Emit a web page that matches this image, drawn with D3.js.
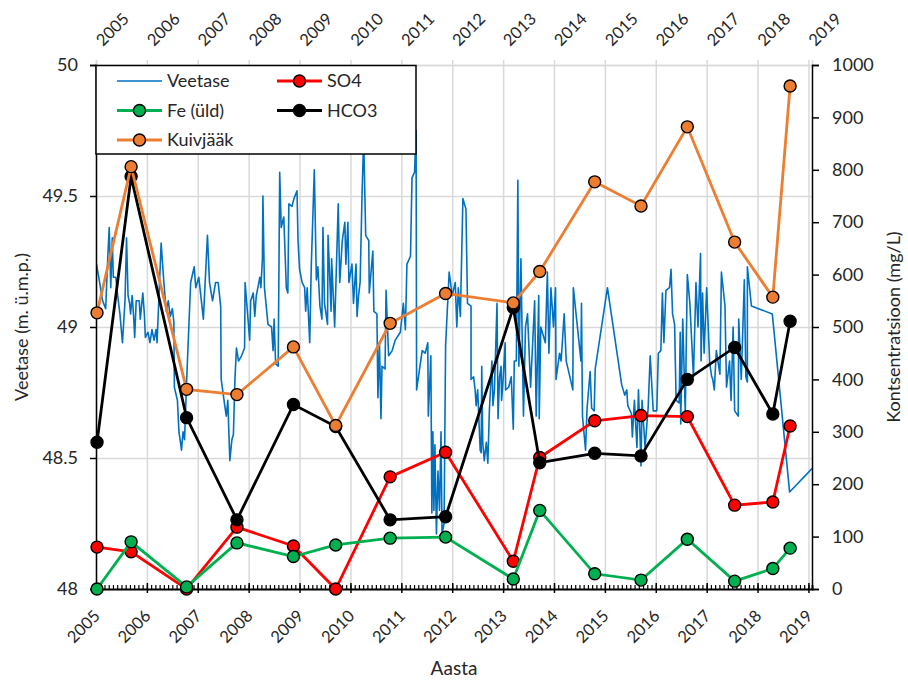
<!DOCTYPE html>
<html>
<head>
<meta charset="utf-8">
<script src="https://cdn.jsdelivr.net/npm/d3@7"></script>
<style>
  body { margin: 0; background: #fff; }
  text { font-family: Lato, "Open Sans", sans-serif; fill: #262626; }
</style>
</head>
<body>
<div id="chart"></div>
<script>
// year ticks (bottom + top axis)
var yearTicks = [2005,2006,2007,2008,2009,2010,2011,2012,2013,2014,2015,2016,2017,2018,2019];
var levelTicks = [48, 48.5, 49, 49.5, 50];
var concTicks = [0,100,200,300,400,500,600,700,800,900,1000];

// sampling dates (decimal years) of the chemistry samples
var sampleDates = [2005.02, 2005.69, 2006.78, 2007.77, 2008.88, 2009.71, 2010.78, 2011.87,
                   2013.20, 2013.72, 2014.80, 2015.71, 2016.62, 2017.55, 2018.30, 2018.64];
var so4      = [80, 71, 0, 118, 82, 0, 214, 261, 53, 251, 321, 331, 329, 160, 166, 311];
var fe       = [0, 90, 4, 88, 62, 84, 97, 99, 19, 150, 29, 17, 95, 15, 39, 78];
var hco3     = [280, 787, 327, 132, 352, 310, 132, 138, 537, 241, 259, 254, 400, 461, 334, 511];
var kuivjaak = [527, 806, 381, 371, 462, 312, 507, 564, 546, 606, 777, 731, 882, 662, 557, 960];

// water level (m), [decimal year, level]
var veetase = [
[2005.01,49.24],[2005.08,49.16],[2005.13,49.10],[2005.19,49.07],[2005.23,49.26],[2005.26,49.38],[2005.29,49.15],[2005.32,49.34],
[2005.34,49.19],[2005.39,49.19],[2005.42,49.13],[2005.47,49.05],[2005.52,48.94],[2005.57,49.10],[2005.60,49.34],[2005.63,49.12],
[2005.66,49.09],[2005.68,49.05],[2005.71,49.12],[2005.74,49.04],[2005.76,48.96],[2005.79,49.10],[2005.85,49.10],[2005.87,49.03],
[2005.92,49.13],[2005.95,49.05],[2005.97,48.96],[2006.02,48.98],[2006.06,48.94],[2006.10,48.99],[2006.14,48.95],[2006.18,48.99],
[2006.20,48.94],[2006.28,49.32],[2006.33,49.18],[2006.38,49.06],[2006.42,49.10],[2006.46,49.04],[2006.50,49.07],[2006.53,49.02],
[2006.54,48.77],[2006.60,48.72],[2006.63,48.60],[2006.66,48.56],[2006.68,48.53],[2006.71,48.60],[2006.74,48.57],[2006.78,48.79],
[2006.86,49.17],[2006.93,49.23],[2006.96,49.15],[2007.02,49.19],[2007.11,49.03],[2007.19,49.35],[2007.23,49.17],[2007.29,49.10],
[2007.35,49.17],[2007.40,49.17],[2007.45,49.08],[2007.46,48.80],[2007.53,48.70],[2007.56,48.66],[2007.59,48.72],[2007.63,48.49],
[2007.67,48.57],[2007.70,48.59],[2007.73,48.80],[2007.76,48.92],[2007.80,48.87],[2007.86,48.89],[2007.92,48.92],[2007.93,49.17],
[2008.02,48.95],[2008.04,49.10],[2008.09,49.13],[2008.12,49.04],[2008.15,49.12],[2008.22,49.19],[2008.24,49.15],[2008.27,49.26],
[2008.28,49.50],[2008.31,49.15],[2008.38,49.01],[2008.45,49.00],[2008.48,48.91],[2008.50,49.03],[2008.53,48.86],[2008.58,48.85],
[2008.61,49.59],[2008.64,49.38],[2008.69,49.42],[2008.74,49.15],[2008.77,49.13],[2008.79,49.47],[2008.85,49.46],[2008.89,49.49],
[2008.95,49.52],[2008.97,49.33],[2009.00,49.22],[2009.05,49.17],[2009.10,49.15],[2009.12,49.06],[2009.15,49.15],[2009.20,48.94],
[2009.23,49.23],[2009.29,49.60],[2009.33,49.18],[2009.36,49.23],[2009.40,49.08],[2009.44,49.03],[2009.46,49.38],[2009.49,49.09],
[2009.55,49.01],[2009.56,49.35],[2009.62,49.06],[2009.63,49.26],[2009.69,49.00],[2009.76,49.47],[2009.79,49.17],[2009.84,49.33],
[2009.89,49.40],[2009.91,49.24],[2009.95,49.40],[2009.97,49.17],[2010.03,49.24],[2010.06,49.09],[2010.11,49.24],[2010.13,49.04],
[2010.16,49.12],[2010.19,49.17],[2010.23,49.52],[2010.26,49.72],[2010.30,49.35],[2010.36,49.33],[2010.37,49.13],[2010.44,49.29],
[2010.46,49.06],[2010.52,49.05],[2010.54,48.73],[2010.57,48.94],[2010.60,48.65],[2010.62,48.85],[2010.68,48.84],[2010.70,49.14],
[2010.75,48.89],[2010.82,48.91],[2010.88,48.95],[2010.98,48.98],[2011.04,49.09],[2011.08,48.99],[2011.11,49.24],[2011.18,49.27],
[2011.21,49.57],[2011.26,49.59],[2011.29,49.75],[2011.30,48.76],[2011.41,48.91],[2011.47,48.90],[2011.52,48.94],[2011.53,48.66],
[2011.58,48.89],[2011.60,48.29],[2011.62,48.60],[2011.64,48.30],[2011.66,48.55],[2011.69,48.21],[2011.72,48.45],[2011.75,48.30],
[2011.78,48.60],[2011.80,48.21],[2011.84,48.25],[2011.87,48.93],[2011.94,49.21],[2012.00,49.12],[2012.06,49.17],[2012.09,49.00],
[2012.12,49.15],[2012.16,49.04],[2012.21,49.49],[2012.27,49.45],[2012.30,49.09],[2012.37,49.08],[2012.37,48.80],[2012.42,48.81],
[2012.45,48.76],[2012.47,48.70],[2012.50,48.76],[2012.55,48.53],[2012.57,48.52],[2012.58,48.85],[2012.60,48.56],[2012.63,48.49],
[2012.67,48.56],[2012.70,48.48],[2012.73,48.68],[2012.78,48.87],[2012.80,48.70],[2012.83,48.76],[2012.88,49.09],[2012.90,48.65],
[2012.93,48.81],[2012.96,48.85],[2012.97,48.72],[2013.00,48.80],[2013.04,48.94],[2013.05,48.76],[2013.11,48.77],[2013.16,48.81],
[2013.20,48.61],[2013.22,48.87],[2013.26,48.87],[2013.29,49.56],[2013.31,48.85],[2013.35,49.26],[2013.40,48.66],[2013.44,49.00],
[2013.48,49.05],[2013.54,48.77],[2013.62,49.10],[2013.65,48.66],[2013.70,49.12],[2013.71,48.65],[2013.74,49.00],[2013.83,48.94],
[2013.87,49.21],[2013.90,48.90],[2013.94,49.15],[2013.99,49.00],[2014.03,49.15],[2014.04,48.80],[2014.11,48.90],[2014.14,48.87],
[2014.20,49.05],[2014.24,48.87],[2014.30,48.82],[2014.37,48.76],[2014.38,49.15],[2014.53,48.87],[2014.54,49.09],[2014.56,48.66],
[2014.62,48.53],[2014.65,48.69],[2014.71,48.83],[2014.74,48.69],[2014.79,48.68],[2014.81,48.84],[2015.05,49.15],[2015.33,48.78],
[2015.39,48.74],[2015.43,48.76],[2015.45,48.70],[2015.52,48.67],[2015.54,48.58],[2015.58,48.72],[2015.63,48.54],[2015.66,48.76],
[2015.71,48.47],[2015.73,48.72],[2015.79,48.54],[2015.85,48.69],[2015.89,48.89],[2015.95,48.68],[2016.02,48.68],[2016.05,48.90],
[2016.10,48.91],[2016.13,49.13],[2016.16,48.94],[2016.20,49.14],[2016.27,49.15],[2016.30,49.22],[2016.33,49.05],[2016.37,49.01],
[2016.40,48.72],[2016.46,48.71],[2016.48,48.98],[2016.49,48.63],[2016.53,49.03],[2016.58,48.67],[2016.62,49.20],[2016.67,49.09],
[2016.74,48.81],[2016.79,49.17],[2016.83,49.00],[2016.88,49.28],[2016.89,48.87],[2016.92,49.13],[2016.95,48.90],[2017.00,49.15],
[2017.06,48.86],[2017.10,48.81],[2017.12,48.80],[2017.15,48.76],[2017.19,48.91],[2017.26,48.82],[2017.29,49.21],[2017.36,49.08],
[2017.39,48.77],[2017.45,48.87],[2017.47,48.76],[2017.48,48.72],[2017.52,49.00],[2017.55,48.68],[2017.62,48.66],[2017.63,49.03],
[2017.68,48.80],[2017.74,49.18],[2017.77,48.81],[2017.80,48.79],[2017.80,49.23],[2017.88,49.08],[2018.29,49.05],[2018.63,48.37],
[2019.07,48.46]
];

var series = [
  {name: "SO4", values: so4, color: "#ff0000"},
  {name: "Fe (üld)", values: fe, color: "#00b050"},
  {name: "HCO3", values: hco3, color: "#000000"},
  {name: "Kuivjääk", values: kuivjaak, color: "#ed7d31"}
];

var width = 908, height = 681;
var margin = {top: 65, right: 96, bottom: 92, left: 96};
var plotW = width - margin.left - margin.right,
    plotH = height - margin.top - margin.bottom;

var svg = d3.select('#chart').append('svg')
    .attr('width', width)
    .attr('height', height);

var g = svg.append('g')
    .attr('transform', 'translate(' + margin.left + ',' + margin.top + ')');

var x = d3.scaleLinear().domain([2005, 2019.07]).range([0, plotW]);
var yL = d3.scaleLinear().domain([48, 50]).range([plotH, 0]);
var yR = d3.scaleLinear().domain([0, 1000]).range([plotH, 0]);

// grid
g.append('g')
    .attr('transform', 'translate(0,' + plotH + ')')
    .call(d3.axisBottom(x).tickValues(yearTicks).tickSize(-plotH).tickFormat(''))
    .call(function(s){ s.select('.domain').remove(); })
    .selectAll('line').attr('stroke', '#d9d9d9').attr('stroke-width', 1.5);
g.append('g')
    .call(d3.axisLeft(yL).tickValues(levelTicks).tickSize(-plotW).tickFormat(''))
    .call(function(s){ s.select('.domain').remove(); })
    .selectAll('line').attr('stroke', '#d9d9d9').attr('stroke-width', 1.5);

// top axis (grey ticks, labels)
var topAx = g.append('g')
    .call(d3.axisTop(x).tickValues(yearTicks).tickSize(5).tickFormat(''));
topAx.select('.domain').attr('stroke', '#d9d9d9').attr('stroke-width', 1.5);
topAx.selectAll('line').attr('stroke', '#d9d9d9').attr('stroke-width', 1.5);

svg.append('g').selectAll('text')
    .data(yearTicks).enter().append('text')
    .attr('transform', function(d){ return 'translate(' + (margin.left + x(d) + 7) + ',47) rotate(-45)'; })
    .style('font-size', '16.5px')
    .text(function(d){ return d; });

// blue water level line
svg.append('clipPath').attr('id', 'clip')
    .append('rect').attr('width', plotW).attr('height', plotH);

g.append('path')
    .datum(veetase)
    .attr('clip-path', 'url(#clip)')
    .attr('fill', 'none')
    .attr('stroke', '#0070c0')
    .attr('stroke-width', 1.6)
    .attr('stroke-linejoin', 'round')
    .attr('d', d3.line().x(function(d){ return x(d[0]); }).y(function(d){ return yL(d[1]); }));

// left axis
var leftAx = g.append('g')
    .call(d3.axisLeft(yL).tickValues(levelTicks).tickSize(6).tickPadding(12)
        .tickFormat(function(d){ return String(d); }));
leftAx.selectAll('text').style('font-size', '18px').attr('fill', '#262626');
leftAx.select('.domain').attr('stroke-width', 1.5);
leftAx.selectAll('line').attr('stroke-width', 1.5);

// right axis
var rightAx = g.append('g')
    .attr('transform', 'translate(' + plotW + ',0)')
    .call(d3.axisRight(yR).tickValues(concTicks).tickSize(7).tickPadding(13)
        .tickFormat(d3.format('d')));
rightAx.selectAll('text').style('font-size', '18px').attr('fill', '#262626');
rightAx.select('.domain').attr('stroke-width', 1.5);
rightAx.selectAll('line').attr('stroke-width', 1.5);

// bottom axis: monthly minor ticks inside, yearly major ticks
var months = d3.range(0, 14 * 12 + 1).map(function(i){ return 2005 + i / 12; });
g.append('g')
    .attr('transform', 'translate(0,' + plotH + ')')
    .call(d3.axisBottom(x).tickValues(months).tickSize(-4).tickFormat(''))
    .call(function(s){ s.select('.domain').attr('stroke-width', 2); })
    .selectAll('line').attr('stroke-width', 1.2);
g.append('g')
    .attr('transform', 'translate(0,' + plotH + ')')
    .call(d3.axisBottom(x).tickValues(yearTicks).tickSizeInner(4).tickSizeOuter(0).tickFormat(''))
    .call(function(s){ s.select('.domain').remove(); })
    .selectAll('line').attr('stroke-width', 1.5).attr('y1', -6);

svg.append('g').selectAll('text')
    .data(yearTicks).enter().append('text')
    .attr('transform', function(d){ return 'translate(' + (margin.left + x(d) + 5) + ',617) rotate(-45)'; })
    .style('font-size', '16.5px')
    .style('text-anchor', 'end')
    .text(function(d){ return d; });

// chemistry series
var line = d3.line()
    .x(function(d){ return x(d[0]); })
    .y(function(d){ return yR(d[1]); });

for (var s of series) {
    var pts = sampleDates.map(function(t, i){ return [t, s.values[i]]; });
    g.append('path')
        .datum(pts)
        .attr('fill', 'none')
        .attr('stroke', s.color)
        .attr('stroke-width', 2.8)
        .attr('d', line);
    g.append('g').selectAll('circle')
        .data(pts).enter().append('circle')
        .attr('cx', function(d){ return x(d[0]); })
        .attr('cy', function(d){ return yR(d[1]); })
        .attr('r', 6)
        .attr('fill', s.color)
        .attr('stroke', '#000')
        .attr('stroke-width', 1.4);
}

// legend
var leg = svg.append('g');
leg.append('rect')
    .attr('x', 96).attr('y', 65.5).attr('width', 320).attr('height', 88.5)
    .attr('fill', '#fff').attr('stroke', '#000').attr('stroke-width', 1.5);

var legItems = [
    {name: 'Veetase', color: '#0070c0', marker: false, col: 0, row: 0},
    {name: 'SO4', color: '#ff0000', marker: true, col: 1, row: 0},
    {name: 'Fe (üld)', color: '#00b050', marker: true, col: 0, row: 1},
    {name: 'HCO3', color: '#000000', marker: true, col: 1, row: 1},
    {name: 'Kuivjääk', color: '#ed7d31', marker: true, col: 0, row: 2}
];
var colX = [117, 277], rowY = [81, 110.5, 140];
legItems.forEach(function(it){
    var lx = colX[it.col], ly = rowY[it.row];
    leg.append('line')
        .attr('x1', lx).attr('x2', lx + 45).attr('y1', ly).attr('y2', ly)
        .attr('stroke', it.color).attr('stroke-width', it.marker ? 2.8 : 1.6);
    if (it.marker) {
        leg.append('circle')
            .attr('cx', lx + 22.5).attr('cy', ly).attr('r', 6)
            .attr('fill', it.color).attr('stroke', '#000').attr('stroke-width', 1.4);
    }
    leg.append('text')
        .attr('x', lx + 50).attr('y', ly).attr('dy', '0.36em')
        .style('font-size', '18px')
        .text(it.name);
});

// axis titles
svg.append('text')
    .attr('transform', 'translate(28,' + (margin.top + plotH / 2) + ') rotate(-90)')
    .style('text-anchor', 'middle')
    .style('font-size', '18px')
    .text('Veetase (m. ü.m.p.)');
svg.append('text')
    .attr('transform', 'translate(900,' + (margin.top + plotH / 2) + ') rotate(-90)')
    .style('text-anchor', 'middle')
    .style('font-size', '18px')
    .text('Kontsentratsioon (mg/L)');
svg.append('text')
    .attr('x', margin.left + plotW / 2).attr('y', 675)
    .style('text-anchor', 'middle')
    .style('font-size', '19px')
    .text('Aasta');
</script>
</body>
</html>
